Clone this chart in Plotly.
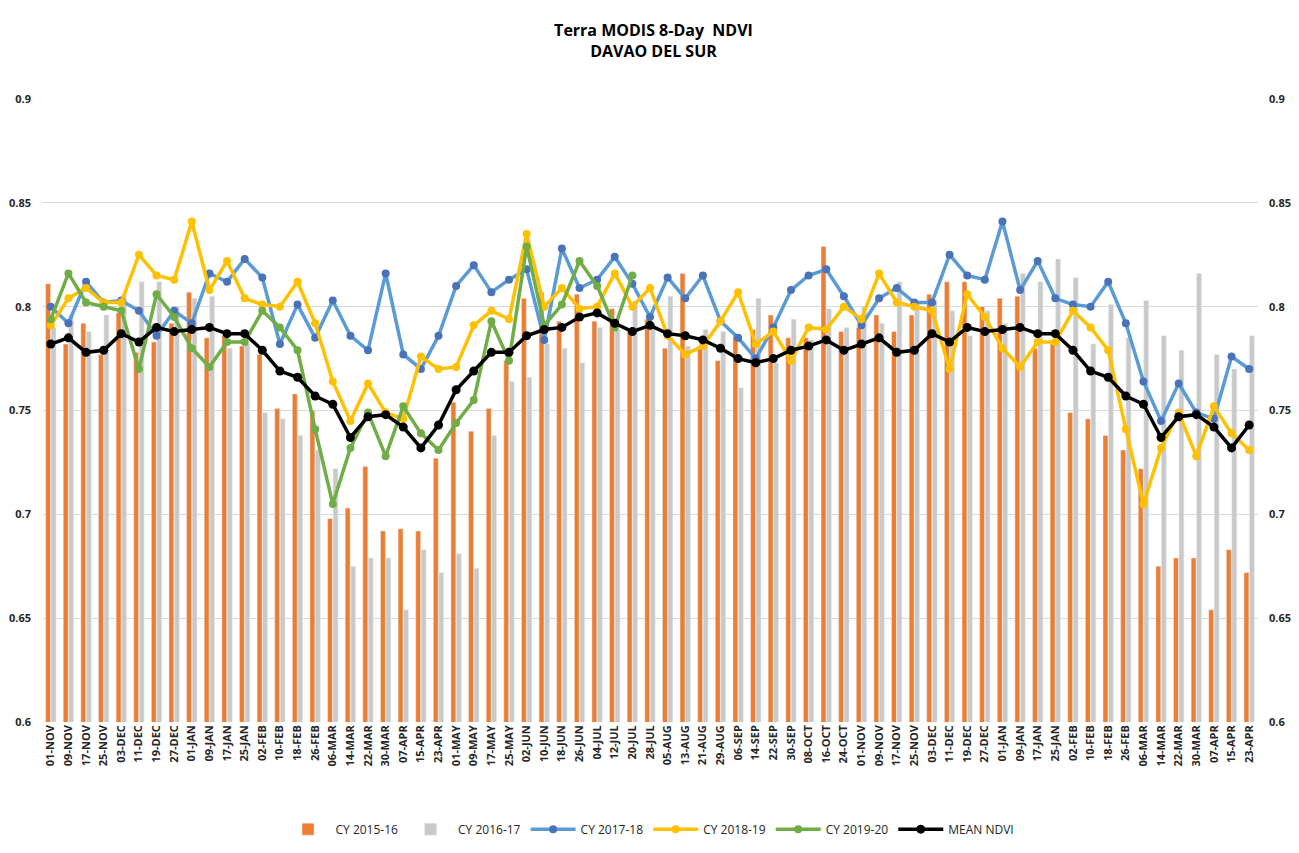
import plotly.graph_objects as go

labels = ["01-NOV","09-NOV","17-NOV","25-NOV","03-DEC","11-DEC","19-DEC","27-DEC","01-JAN","09-JAN",
          "17-JAN","25-JAN","02-FEB","10-FEB","18-FEB","26-FEB","06-MAR","14-MAR","22-MAR","30-MAR",
          "07-APR","15-APR","23-APR","01-MAY","09-MAY","17-MAY","25-MAY","02-JUN","10-JUN","18-JUN",
          "26-JUN","04-JUL","12-JUL","20-JUL","28-JUL","05-AUG","13-AUG","21-AUG","29-AUG","06-SEP",
          "14-SEP","22-SEP","30-SEP","08-OCT","16-OCT","24-OCT","01-NOV","09-NOV","17-NOV","25-NOV",
          "03-DEC","11-DEC","19-DEC","27-DEC","01-JAN","09-JAN","17-JAN","25-JAN","02-FEB","10-FEB",
          "18-FEB","26-FEB","06-MAR","14-MAR","22-MAR","30-MAR","07-APR","15-APR","23-APR"]

cy_2015_16 = [0.811,0.782,0.792,0.777,0.797,0.778,0.783,0.792,0.807,0.785,
              0.786,0.781,0.777,0.751,0.758,0.750,0.698,0.703,0.723,0.692,
              0.693,0.692,0.727,0.754,0.740,0.751,0.774,0.804,0.807,0.793,
              0.806,0.793,0.799,0.788,0.794,0.780,0.816,0.781,0.774,0.786,
              0.789,0.796,0.785,0.785,0.829,0.788,0.790,0.796,0.788,0.796,
              0.806,0.812,0.812,0.800,0.804,0.805,0.780,0.782,0.749,0.746,
              0.738,0.731,0.722,0.675,0.679,0.679,0.654,0.683,0.672]

cy_2016_17 = [0.790,0.796,0.788,0.796,0.806,0.812,0.812,0.800,0.804,0.805,
              0.780,0.782,0.749,0.746,0.738,0.731,0.722,0.675,0.679,0.679,
              0.654,0.683,0.672,0.681,0.674,0.738,0.764,0.766,0.782,0.780,
              0.773,0.790,0.789,0.803,0.792,0.805,0.781,0.789,0.788,0.761,
              0.804,0.773,0.794,0.784,0.799,0.790,0.800,0.792,0.812,0.802,
              0.803,0.798,0.786,0.798,0.792,0.816,0.812,0.823,0.814,0.782,
              0.801,0.785,0.803,0.786,0.779,0.816,0.777,0.770,0.786]

cy_2017_18 = [0.800,0.792,0.812,0.802,0.803,0.798,0.786,0.798,0.792,0.816,
              0.812,0.823,0.814,0.782,0.801,0.785,0.803,0.786,0.779,0.816,
              0.777,0.770,0.786,0.810,0.820,0.807,0.813,0.818,0.784,0.828,
              0.809,0.813,0.824,0.811,0.795,0.814,0.804,0.815,0.793,0.785,
              0.775,0.790,0.808,0.815,0.818,0.805,0.791,0.804,0.809,0.802,
              0.802,0.825,0.815,0.813,0.841,0.808,0.822,0.804,0.801,0.800,
              0.812,0.792,0.764,0.745,0.763,0.749,0.746,0.776,0.770]

cy_2018_19 = [0.791,0.804,0.809,0.802,0.802,0.825,0.815,0.813,0.841,0.808,
              0.822,0.804,0.801,0.800,0.812,0.792,0.764,0.745,0.763,0.749,
              0.746,0.776,0.770,0.771,0.791,0.798,0.794,0.835,0.800,0.809,
              0.799,0.800,0.816,0.800,0.809,0.786,0.777,0.781,0.793,0.807,
              0.782,0.788,0.774,0.790,0.789,0.800,0.794,0.816,0.802,0.800,
              0.798,0.770,0.806,0.795,0.780,0.771,0.783,0.783,0.798,0.790,
              0.779,0.741,0.705,0.732,0.749,0.728,0.752,0.739,0.731]

cy_2019_20 = [0.794,0.816,0.802,0.800,0.798,0.770,0.806,0.795,0.780,0.771,
              0.783,0.783,0.798,0.790,0.779,0.741,0.705,0.732,0.749,0.728,
              0.752,0.739,0.731,0.744,0.755,0.793,0.774,0.829,0.791,0.801,
              0.822,0.810,0.790,0.815]

mean_ndvi = [0.782,0.785,0.778,0.779,0.787,0.783,0.790,0.788,0.789,0.790,
             0.787,0.787,0.779,0.769,0.766,0.757,0.753,0.737,0.747,0.748,
             0.742,0.732,0.743,0.760,0.769,0.778,0.778,0.786,0.789,0.790,
             0.795,0.797,0.792,0.788,0.791,0.787,0.786,0.784,0.780,0.775,
             0.773,0.775,0.779,0.781,0.784,0.779,0.782,0.785,0.778,0.779,
             0.787,0.783,0.790,0.788,0.789,0.790,0.787,0.787,0.779,0.769,
             0.766,0.757,0.753,0.737,0.747,0.748,0.742,0.732,0.743]

y_ticks = [0.6, 0.65, 0.7, 0.75, 0.8, 0.85, 0.9]
y_tick_text = ["0.6", "0.65", "0.7", "0.75", "0.8", "0.85", "0.9"]

x = list(range(len(labels)))
FONT = "Open Sans, Roboto, sans-serif"

fig = go.Figure()
fig.add_trace(go.Bar(x=x, y=cy_2015_16, name="CY 2015-16", marker_color="#ED7D31"))
fig.add_trace(go.Bar(x=x, y=cy_2016_17, name="CY 2016-17", marker_color="#C9C9C9"))

def line(vals, name, color, mcolor, msize=8, width=3.5):
    return go.Scatter(x=x[:len(vals)], y=vals, name=name, mode="lines+markers",
                      line=dict(color=color, width=width),
                      marker=dict(color=mcolor, size=msize, line=dict(width=0)))

fig.add_trace(line(cy_2017_18, "CY 2017-18", "#5B9BD5", "#4A72B8"))
fig.add_trace(line(cy_2018_19, "CY 2018-19", "#FFC000", "#FFC000"))
fig.add_trace(line(cy_2019_20, "CY 2019-20", "#70AD47", "#70AD47"))
fig.add_trace(line(mean_ndvi, "MEAN NDVI", "#000000", "#000000", msize=9, width=3.5))
# invisible trace to carry the right-hand axis
fig.add_trace(go.Scatter(x=x, y=mean_ndvi, yaxis="y2", mode="lines",
                         line=dict(color="rgba(0,0,0,0)"), showlegend=False, hoverinfo="skip"))

tickfont = dict(family=FONT, size=11, color="#262626")

fig.update_layout(
    width=1291, height=845,
    margin=dict(l=34, r=41, t=91, b=131, autoexpand=False),
    paper_bgcolor="white", plot_bgcolor="white",
    font=dict(family=FONT, size=12, color="#404040"),
    title=dict(text="<b>Terra MODIS 8-Day  NDVI<br>DAVAO DEL SUR</b>",
               x=0.5, xanchor="center", y=0.967, yanchor="top",
               font=dict(family=FONT, size=16, color="#000000")),
    barmode="group", bargap=0.38, bargroupgap=0.1,
    xaxis=dict(range=[-0.5, len(labels) - 0.5], tickmode="array", tickvals=x,
               ticktext=["<b>%s</b>" % t for t in labels], tickangle=-90,
               tickfont=tickfont, automargin=False,
               showgrid=False, zeroline=False, showline=False, ticks=""),
    yaxis=dict(range=[0.6, 0.9], tickmode="array", tickvals=y_ticks,
               ticktext=["<b>%s</b>" % t for t in y_tick_text],
               tickfont=tickfont, automargin=False,
               showgrid=True, gridcolor="#D9D9D9", gridwidth=1.3, zeroline=False,
               showline=False, ticks="", ticklabelstandoff=10),
    yaxis2=dict(range=[0.6, 0.9], overlaying="y", side="right", tickmode="array",
                tickvals=y_ticks, ticktext=["<b>%s</b>" % t for t in y_tick_text],
                tickfont=tickfont, automargin=False,
                showgrid=False, zeroline=False, showline=False, ticks="", ticklabelstandoff=10),
    legend=dict(orientation="h", x=0.5, xanchor="center", y=-0.172, yanchor="middle",
                font=dict(family=FONT, size=12, color="#262626"), itemwidth=45,
                traceorder="normal"),
)

fig.write_html("out.html")
